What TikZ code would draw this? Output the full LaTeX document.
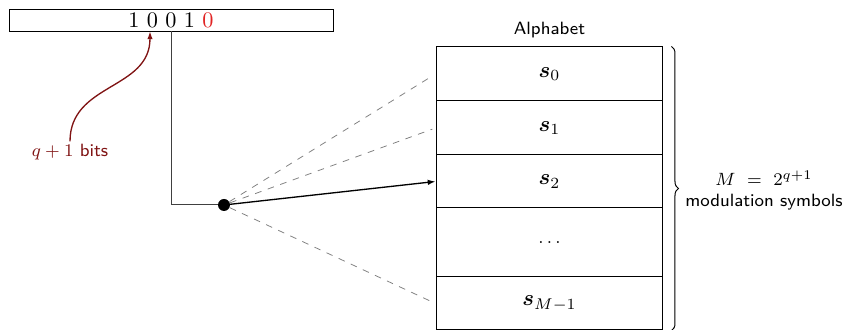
\documentclass[tikz,border=0pt]{standalone}
\usepackage{bm}
\usetikzlibrary{arrows.meta,decorations.pathreplacing,calc}
\definecolor{darkred}{RGB}{128,20,20}
\definecolor{bitred}{RGB}{225,35,35}
\def\u{0.45pt}
\tikzset{
  row/.style={draw, minimum width=227*\u, inner sep=0pt, line width=0.45pt},
  dashline/.style={draw=gray, dashed, line width=0.35pt, shorten >=1.5pt},
  lbl/.style={font=\footnotesize\sffamily, inner sep=1pt}
}
\begin{document}
\begin{tikzpicture}[x=0.45pt,y=-0.45pt]
\useasboundingbox (0,0) rectangle (846,330);
\node[draw, minimum width=324*\u, minimum height=22*\u, inner sep=0pt] (bits) at (171,20) {1 0 0 1 \textcolor{bitred}{0}};
\coordinate (tgt) at ([xshift=-21*\u]bits.south);
\node[lbl, text=darkred] (q) at (70,152) {$q+1$ bits};
\draw[darkred, line width=0.6pt, -{Latex[length=3.5pt,width=2.5pt]}] (q.north) to[out=90,in=-90,looseness=1.1] (tgt);

\node[row, minimum height=54*\u] (r0) at (549.5,74) {$\bm{s}_0$};
\node[row, minimum height=54*\u] (r1) at (549.5,128) {$\bm{s}_1$};
\node[row, minimum height=53*\u] (r2) at (549.5,181.5) {$\bm{s}_2$};
\node[row, minimum height=69*\u, font=\footnotesize] (r3) at (549.5,242.5) {$\dots$};
\node[row, minimum height=53*\u] (r4) at (549.5,303.5) {$\bm{s}_{M-1}$};
\node[lbl, anchor=south] (alph) at ([yshift=6*\u]r0.north) {Alphabet};

\node[circle, fill=black, inner sep=0pt, minimum size=12*\u] (dot) at (224,205) {};
\draw[black!75, line width=0.45pt] (bits.south) |- (dot);
\draw[dashline] (dot) -- (r0.west);
\draw[dashline] (dot) -- (r1.west);
\draw[dashline] (dot) -- (r4.west);
\draw[line width=0.6pt, -{Latex[length=3.5pt,width=2.5pt]}] (dot.center) -- (r2.west);

\coordinate (bt) at ([xshift=8*\u]r0.north east);
\coordinate (bb) at ([xshift=8*\u]r4.south east);
\draw[decorate, decoration={brace, amplitude=7*\u}, line width=0.45pt] (bt) -- (bb);
\node[lbl, align=center] (msym) at (764,190.5) {$M\ =\ 2^{q+1}$\\modulation symbols};
\end{tikzpicture}
\end{document}
